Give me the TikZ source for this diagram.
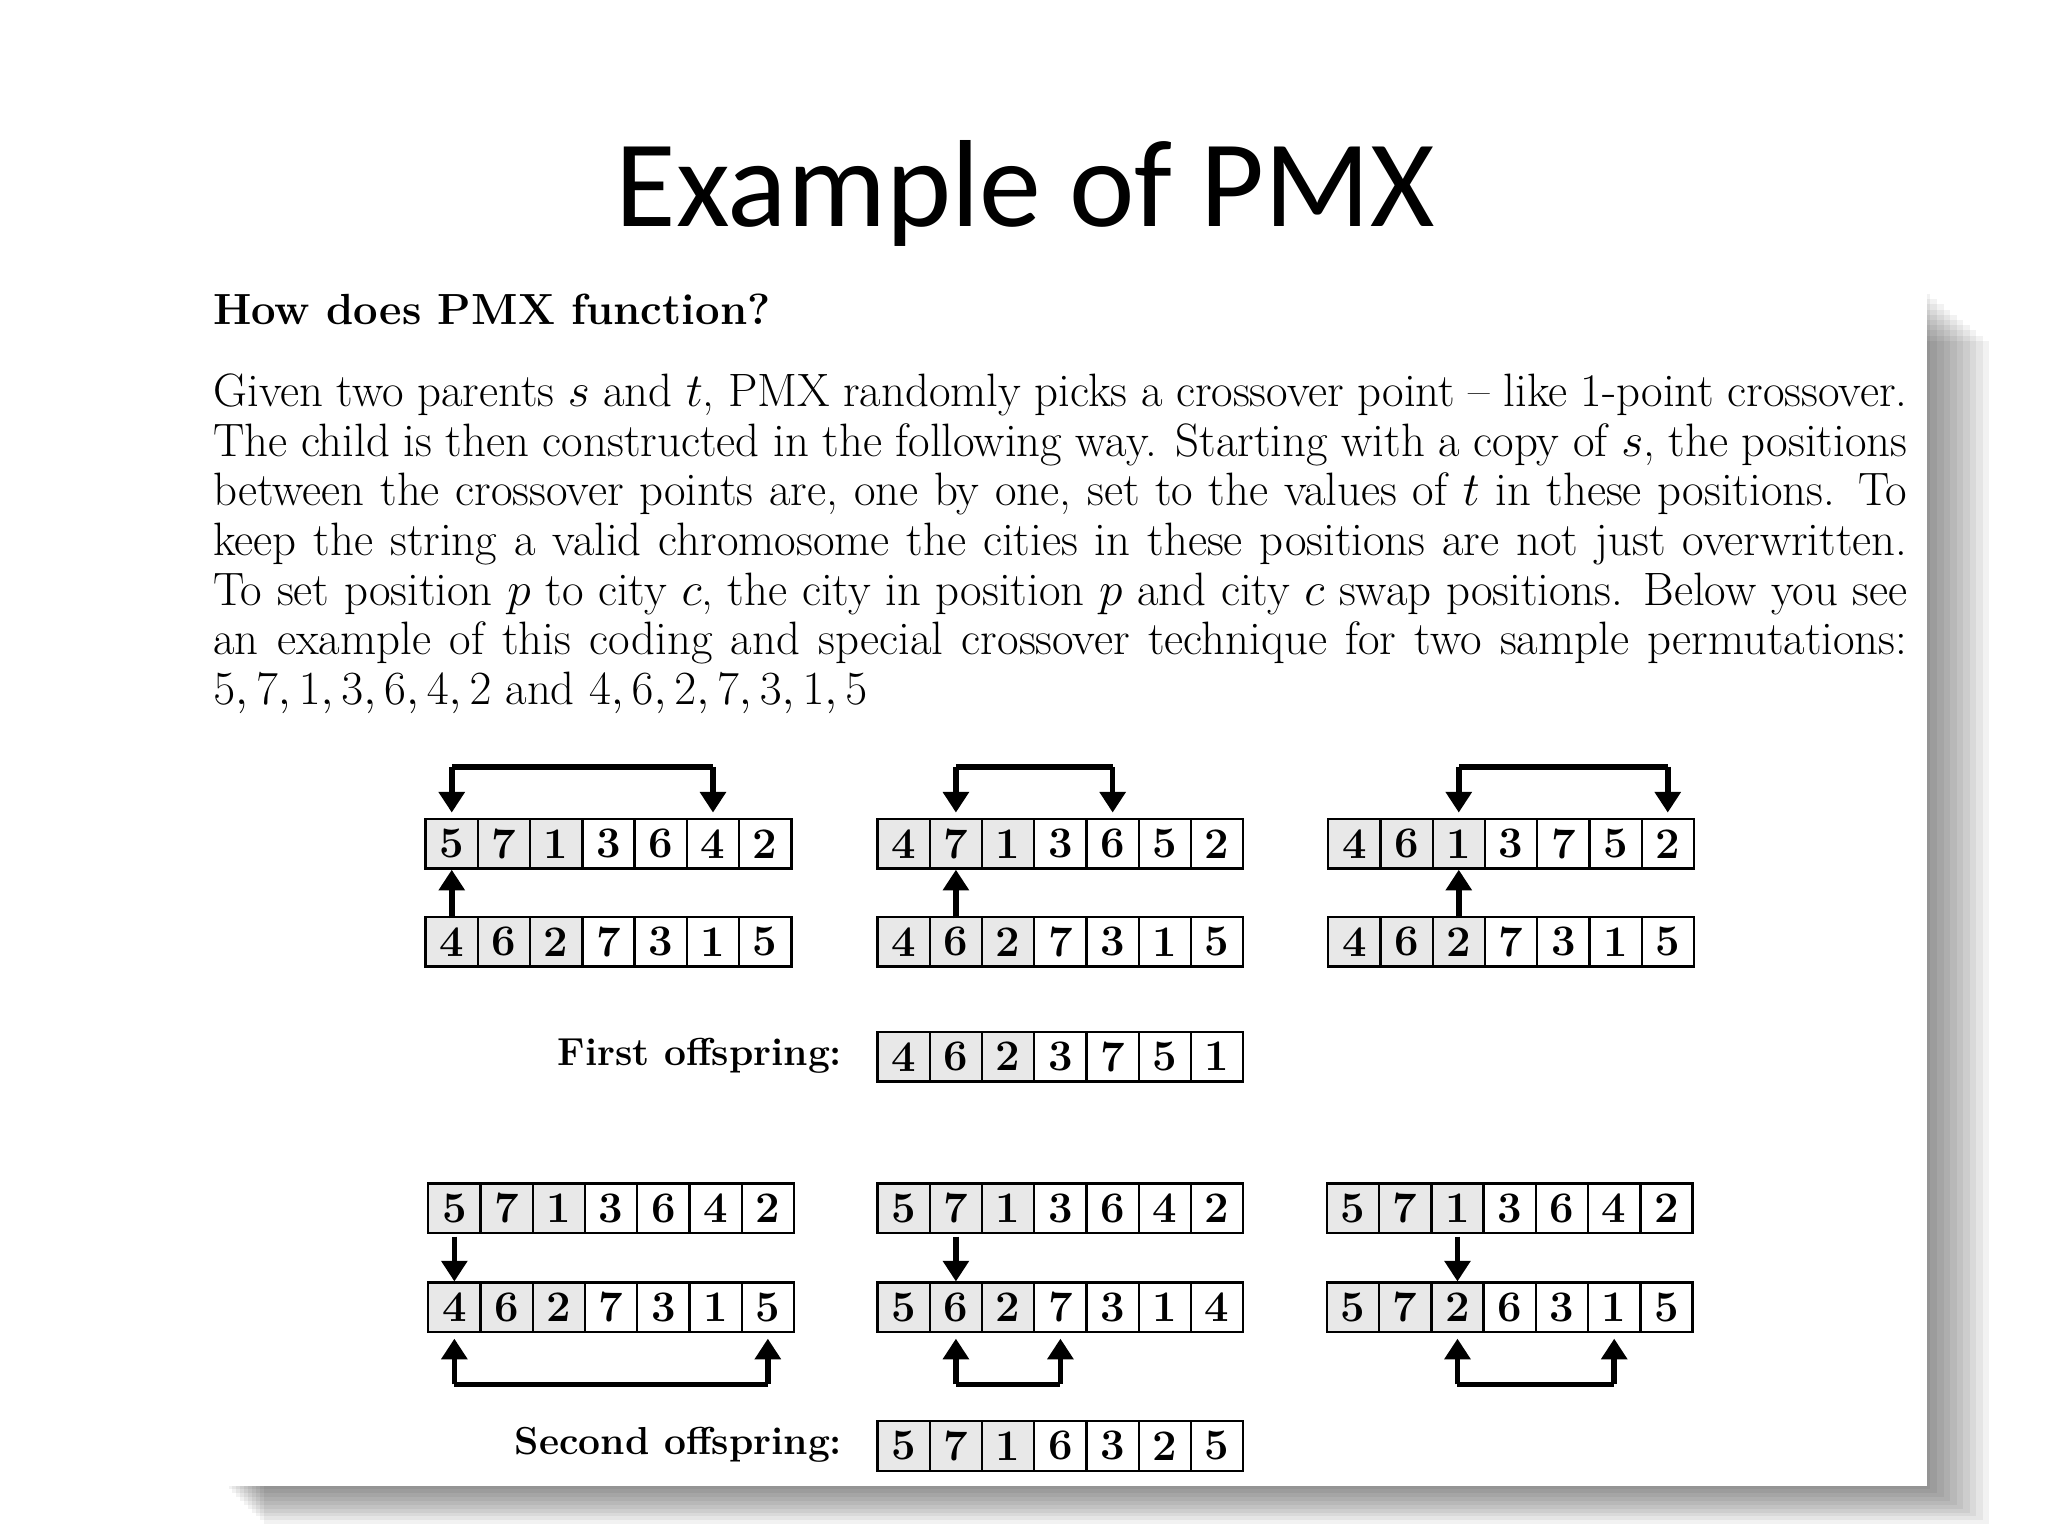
\documentclass[tikz,border=0pt]{standalone}
\usepackage{fontspec}
\newfontfamily\titlefont{Carlito}
\usetikzlibrary{arrows.meta}
\tikzset{
  cell/.style={draw, line width=1pt, minimum width=0.8cm, minimum height=0.76cm, inner sep=0pt, font=\fontsize{19}{19}\selectfont\bfseries, anchor=west},
  gcell/.style={cell, fill=gray!18},
  arr/.style={line width=2.4pt, -{Triangle[width=11pt,length=9pt]}},
  lbl/.style={anchor=east, font=\fontsize{17}{17}\selectfont\bfseries}
}
\newcommand\pmxrow[4]{%
  \foreach \v [count=\i] in {#4} {
    \ifnum\i<4
      \node[gcell] (#1\i) at ({#2+(\i-1)*40},#3) {\v};
    \else
      \node[cell] (#1\i) at ({#2+(\i-1)*40},#3) {\v};
    \fi
  }}
\begin{document}
\begin{tikzpicture}[x=0.02cm,y=-0.02cm]
\useasboundingbox (0,0) rectangle (1568,1176);
\fill[white] (0,0) rectangle (1568,1176);
% shadow
\foreach \k in {0,...,9} {
  \fill[black,opacity=0.05] ({175+\k*3},{225+\k*4}) rectangle ({1478+\k*5},{1140+\k*3});
}
\fill[white] (155,215) rectangle (1475,1138);
\node[font=\titlefont\fontsize{54}{54}\selectfont] (title) at (785,148) {Example of PMX};
\node[anchor=north west, inner sep=0pt, font=\fontsize{19}{21}\selectfont\bfseries] (head) at (163,225) {How does PMX function?};
\node[anchor=north west, inner sep=0pt, text width=1297*0.02cm, align=justify, font=\fontsize{20.4}{21.6}\selectfont] (para) at (163,286) {%
Given two parents $s$ and $t$, PMX randomly picks a crossover point -- like 1-point crossover.\linebreak
The child is then constructed in the following way. Starting with a copy of $s$, the positions\linebreak
between the crossover points are, one by one, set to the values of $t$ in these positions. To\linebreak
keep the string a valid chromosome the cities in these positions are not just overwritten.\linebreak
To set position $p$ to city $c$, the city in position $p$ and city $c$ swap positions. Below you see\linebreak
an example of this coding and special crossover technique for two sample permutations:\linebreak
$5,7,1,3,6,4,2$ and $4,6,2,7,3,1,5$};
% top block
\pmxrow{a}{325}{646}{5,7,1,3,6,4,2}
\pmxrow{b}{325}{721}{4,6,2,7,3,1,5}
\pmxrow{c}{671}{646}{4,7,1,3,6,5,2}
\pmxrow{d}{671}{721}{4,6,2,7,3,1,5}
\pmxrow{e}{1016}{646}{4,6,1,3,7,5,2}
\pmxrow{f}{1016}{721}{4,6,2,7,3,1,5}
\node[lbl] (fo) at (651,808) {First offspring:};
\pmxrow{o}{671}{809}{4,6,2,3,7,5,1}
\draw[arr] ([yshift=-0.04cm]b1.north) -- (a1.south);
\draw[arr] ([yshift=-0.04cm]d2.north) -- (c2.south);
\draw[arr] ([yshift=-0.04cm]f3.north) -- (e3.south);
\draw[arr, -] ([yshift=0.78cm]a1.north) -- ([yshift=0.78cm]a6.north);
\draw[arr] ([yshift=0.78cm]a1.north) -- ([yshift=0.08cm]a1.north);
\draw[arr] ([yshift=0.78cm]a6.north) -- ([yshift=0.08cm]a6.north);
\draw[arr, -] ([yshift=0.78cm]c2.north) -- ([yshift=0.78cm]c5.north);
\draw[arr] ([yshift=0.78cm]c2.north) -- ([yshift=0.08cm]c2.north);
\draw[arr] ([yshift=0.78cm]c5.north) -- ([yshift=0.08cm]c5.north);
\draw[arr, -] ([yshift=0.78cm]e3.north) -- ([yshift=0.78cm]e7.north);
\draw[arr] ([yshift=0.78cm]e3.north) -- ([yshift=0.08cm]e3.north);
\draw[arr] ([yshift=0.78cm]e7.north) -- ([yshift=0.08cm]e7.north);
% bottom block
\pmxrow{g}{327}{925}{5,7,1,3,6,4,2}
\pmxrow{h}{327}{1001}{4,6,2,7,3,1,5}
\pmxrow{i}{671}{925}{5,7,1,3,6,4,2}
\pmxrow{j}{671}{1001}{5,6,2,7,3,1,4}
\pmxrow{k}{1015}{925}{5,7,1,3,6,4,2}
\pmxrow{l}{1015}{1001}{5,7,2,6,3,1,5}
\node[lbl] (so) at (651,1106) {Second offspring:};
\pmxrow{m}{671}{1107}{5,7,1,6,3,2,5}
\draw[arr] ([yshift=-0.04cm]g1.south) -- (h1.north);
\draw[arr] ([yshift=-0.04cm]i2.south) -- (j2.north);
\draw[arr] ([yshift=-0.04cm]k3.south) -- (l3.north);
\draw[arr, -] ([yshift=-0.78cm]h1.south) -- ([yshift=-0.78cm]h7.south);
\draw[arr] ([yshift=-0.78cm]h1.south) -- ([yshift=-0.08cm]h1.south);
\draw[arr] ([yshift=-0.78cm]h7.south) -- ([yshift=-0.08cm]h7.south);
\draw[arr, -] ([yshift=-0.78cm]j2.south) -- ([yshift=-0.78cm]j4.south);
\draw[arr] ([yshift=-0.78cm]j2.south) -- ([yshift=-0.08cm]j2.south);
\draw[arr] ([yshift=-0.78cm]j4.south) -- ([yshift=-0.08cm]j4.south);
\draw[arr, -] ([yshift=-0.78cm]l3.south) -- ([yshift=-0.78cm]l6.south);
\draw[arr] ([yshift=-0.78cm]l3.south) -- ([yshift=-0.08cm]l3.south);
\draw[arr] ([yshift=-0.78cm]l6.south) -- ([yshift=-0.08cm]l6.south);
\end{tikzpicture}
\end{document}
